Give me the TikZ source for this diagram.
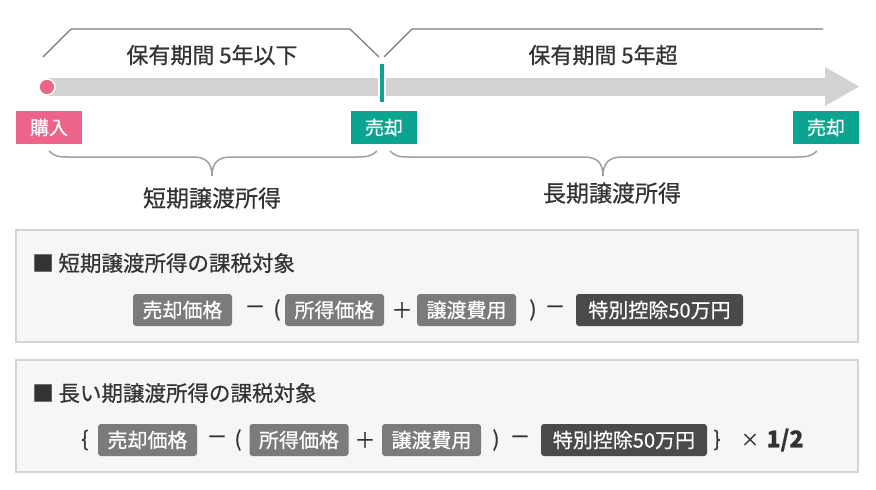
\documentclass[tikz,border=0pt]{standalone}
\usepackage{fontspec}
\setmainfont{Noto Sans CJK JP}[FakeBold=0.6]
\usetikzlibrary{positioning}

\definecolor{barGray}{HTML}{D2D2D2}
\definecolor{lineGray}{HTML}{7A7A7A}
\definecolor{braceGray}{HTML}{A0A0A0}
\definecolor{pinkC}{HTML}{EE6389}
\definecolor{tealC}{HTML}{0BA491}
\definecolor{txtDark}{HTML}{333333}
\definecolor{chipGray}{HTML}{7B7B7B}
\definecolor{chipDark}{HTML}{4A4A4A}
\definecolor{panelFill}{HTML}{F6F6F6}
\definecolor{panelLine}{HTML}{D4D4D4}

\tikzset{
  ttl/.style={text=txtDark, inner sep=0pt, font=\fontsize{22}{22}\selectfont},
  tag/.style={text=white, inner sep=0pt, minimum width=66pt, minimum height=33pt,
    font=\fontsize{19}{19}\selectfont},
  brk/.style={draw=lineGray, line width=1.2pt},
  brc/.style={draw=braceGray, line width=1.5pt},
  panel/.style={draw=panelLine, fill=panelFill, line width=1.5pt},
  head/.style={text=txtDark, inner sep=0pt, anchor=west, font=\fontsize{21.5}{21.5}\selectfont},
  chip/.style={fill=chipGray, text=white, rounded corners=3pt, inner sep=0pt,
    minimum width=99pt, minimum height=32pt, font=\fontsize{20}{20}\selectfont},
  chipdark/.style={chip, fill=chipDark, minimum width=167pt},
  op/.style={text=txtDark, inner sep=0pt, font=\fontsize{21}{21}\selectfont},
}

\begin{document}
\begin{tikzpicture}[x=1pt, y=-1pt]
    \useasboundingbox[fill=white] (0,0) rectangle (876,490);

    % holding periods
    \draw[brk] (43,57) -- (71,29) -- (350,29) -- (379,57);
    \draw[brk] (384,57) -- (412,29) -- (823,29);
    \node[ttl] (upto) at (212,55) {保有期間 5年以下};
    \node[ttl] (over) at (603,55) {保有期間 5年超};

    % timeline
    \fill[barGray] (47,78) rectangle (826,96);
    \fill[barGray] (825,67) -- (859,86.5) -- (825,106) -- cycle;
    \fill[white] (378,78) rectangle (386,96);
    \draw[tealC, line width=3.5pt] (382,64) -- (382,102);
    \node[circle, fill=pinkC, draw=white, line width=1.5pt, minimum size=16pt, inner sep=0pt] (dot) at (47,87) {};

    \node[tag, fill=pinkC] (buy) at (49,127.5) {購入};
    \node[tag, fill=tealC] (sellA) at (384,127.5) {売却};
    \node[tag, fill=tealC] (sellB) at (826,127.5) {売却};

    % braces
    \draw[brc] (49,151) .. controls (54,156) and (58,157) .. (68,157) -- (193,157)
        .. controls (206,157) and (212,163) .. (212,176)
        .. controls (212,163) and (218,157) .. (231,157) -- (357,157)
        .. controls (367,157) and (372,156) .. (377,151);
    \draw[brc] (390,151) .. controls (395,156) and (399,157) .. (409,157) -- (584,157)
        .. controls (597,157) and (603,163) .. (603,176)
        .. controls (603,163) and (609,157) .. (622,157) -- (797,157)
        .. controls (807,157) and (812,156) .. (817,151);
    \node[ttl, font=\fontsize{23}{23}\selectfont] (shortInc) at (212,198) {短期譲渡所得};
    \node[ttl, font=\fontsize{23}{23}\selectfont] (longInc) at (612,193) {長期譲渡所得};

    % short term
    \draw[panel] (16,230) rectangle (858,342);
    \node[head] (headA) at (32,263) {■ 短期譲渡所得の課税対象};
    \node[chip] (saleA) at (182.5,310) {売却価格};
    \node[op] (minA) at (255,310) {－};
    \node[op] (lpA) at (277,310) {(};
    \node[chip] (costA) at (334.5,310) {所得価格};
    \node[op] (plusA) at (402,310) {＋};
    \node[chip] (feeA) at (466.5,310) {譲渡費用};
    \node[op] (rpA) at (533,310) {)};
    \node[op] (min2A) at (555,310) {－};
    \node[chipdark] (dedA) at (659.5,310) {特別控除50万円};

    % long term
    \draw[panel] (16,360) rectangle (858,472);
    \node[head] (headB) at (32,393) {■ 長い期譲渡所得の課税対象};
    \node[op] (lbB) at (85,440) {\{};
    \node[chip] (saleB) at (147.5,440) {売却価格};
    \node[op] (minB) at (217,440) {－};
    \node[op] (lpB) at (238,440) {(};
    \node[chip] (costB) at (299,440) {所得価格};
    \node[op] (plusB) at (365,440) {＋};
    \node[chip] (feeB) at (431.5,440) {譲渡費用};
    \node[op] (rpB) at (496,440) {)};
    \node[op] (min2B) at (520,440) {－};
    \node[chipdark, minimum width=166pt] (dedB) at (624,440) {特別控除50万円};
    \node[op] (rbB) at (717,440) {\}};
    \node[op, font=\fontsize{18}{18}\selectfont] (timesB) at (750,440) {×};
    \node[op, font=\fontsize{23}{23}\selectfont\bfseries] (halfB) at (785,440) {1/2};
\end{tikzpicture}
\end{document}
